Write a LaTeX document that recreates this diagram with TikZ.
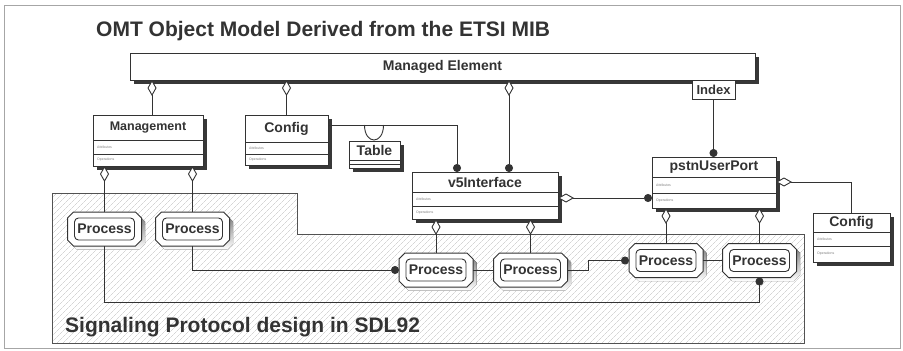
\documentclass[tikz,border=0pt]{standalone}
\usepackage{fontspec}
\setmainfont{Liberation Sans}
\usetikzlibrary{shapes.misc,shadows,arrows.meta,calc,patterns.meta}

\definecolor{ink}{gray}{0.2}
\definecolor{shade}{gray}{0.22}

\newcommand\umlclass[8]{%
  \node[classbox, minimum width=#4pt, minimum height=#5pt] (#1) at (#2,#3) {};
  \draw[divline] ($(#1.north west)+(0,#6)$) -- ($(#1.north east)+(0,#6)$);
  \draw[divline] ($(#1.north west)+(0,#7)$) -- ($(#1.north east)+(0,#7)$);
  \node[cname] (#1-name) at ($(#1.north)+(0,#6/2)$) {#8};
  \node[ctiny] (#1-attr) at ($(#1.north west)+(4,{(#6+#7)/2})$) {Attributes};
  \node[ctiny] (#1-ops) at ($(#1.north west)+(4,{(#7+#5)/2})$) {Operations};
}

\newcommand\procnode[3]{%
  \begin{scope}[shift={(#2,#3)}]
    \fill[shade, shift={(3.5,3.5)}, octo];
    \filldraw[fill=white, draw=ink, line width=1pt, octo];
    \draw[ink, line width=0.9pt, rounded corners=4pt] (-30,-11) rectangle (30,11);
    \node[procbox] (#1) at (0,0) {Process};
  \end{scope}
}

\begin{document}
\begin{tikzpicture}[x=1pt,y=-1pt,
  conn/.style={draw=ink, line width=0.9pt},
  agg/.style={conn, {Diamond[fill=white,length=16pt,width=9pt]}-},
  aggdot/.style={conn, {Diamond[fill=white,length=16pt,width=9pt]}-{Circle[length=8pt]}},
  todot/.style={conn, -{Circle[length=8pt]}},
  divline/.style={draw=ink, line width=0.7pt},
  classbox/.style={draw=ink, line width=0.9pt, fill=white, rectangle, inner sep=0pt, outer sep=0pt,
     drop shadow={shadow xshift=3.5pt, shadow yshift=-3.5pt, fill=shade, opacity=1}},
  cname/.style={font=\bfseries\fontsize{14}{14}\selectfont, text=ink, inner sep=0pt},
  ctiny/.style={font=\fontsize{3.5}{4}\selectfont, text=gray, anchor=west, inner sep=0pt},
  procbox/.style={rectangle, minimum width=74pt, minimum height=34pt, inner sep=0pt, outer sep=0pt,
     font=\bfseries\fontsize{14}{14}\selectfont, text=ink},
  octo/.style={insert path={(-31,-17) -- (31,-17) -- (37,-11) -- (37,11) -- (31,17) -- (-31,17) -- (-37,11) -- (-37,-11) -- cycle}},
  bigtext/.style={anchor=west, font=\bfseries\fontsize{21}{21}\selectfont, text=ink, inner sep=0pt}
]
\useasboundingbox (0,0) rectangle (903,351);
\fill[white] (0,0) rectangle (903,351);
\draw[gray!70, line width=0.8pt] (4,5) rectangle (900,348);

% SDL region
\path[draw=ink!85, line width=0.8pt, pattern={Lines[angle=45, distance=4pt, line width=0.4pt]}, pattern color=gray!50]
  (52,193) -- (297,193) -- (297,234) -- (804,234) -- (804,343) -- (52,343) -- cycle;

\node[bigtext] (title) at (96,31) {OMT Object Model Derived from the ETSI MIB};
\node[bigtext] (sdl) at (65,327) {Signaling Protocol design in SDL92};

% Managed element
\node[classbox, minimum width=625pt, minimum height=27pt, font=\bfseries\fontsize{14}{14}\selectfont, text=ink] (me) at (442.5,66.5) {Managed Element};
\node[draw=ink, line width=0.7pt, fill=white, minimum width=43pt, minimum height=19pt, inner sep=0pt,
      font=\bfseries\fontsize{13}{13}\selectfont, text=ink] (idx) at (713.5,89.5) {Index};

\umlclass{mgmt}{148}{140.5}{110}{51}{25}{39}{\fontsize{12.5}{12.5}\selectfont Management}
\umlclass{cfgL}{286.5}{140}{83}{50}{27}{39}{Config}
\umlclass{v5}{485}{195.5}{146}{47}{20}{34}{v5Interface}
\umlclass{pstn}{714}{182.5}{124}{51}{20}{36}{pstnUserPort}
\umlclass{cfgR}{851.5}{237.5}{77}{49}{19}{33}{Config}

% Table
\node[classbox, minimum width=51pt, minimum height=27pt] (tbl) at (374.5,154.5) {};
\draw[divline] ($(tbl.north west)+(0,19)$) -- ($(tbl.north east)+(0,19)$);
\draw[divline] ($(tbl.north west)+(0,23)$) -- ($(tbl.north east)+(0,23)$);
\node[cname] (tbl-name) at ($(tbl.north)+(0,9.5)$) {Table};

% Processes
\procnode{p1}{104.5}{229}
\procnode{p2}{192.5}{229}
\procnode{p3}{436}{270}
\procnode{p4}{530.5}{270}
\procnode{p5}{666}{260.5}
\procnode{p6}{759.5}{260.5}

% connectors
\coordinate (mgA) at ($(mgmt.north)+(4,0)$);
\draw[agg] (me.south -| mgA) -- (mgA);
\draw[agg] (me.south -| cfgL.north) -- (cfgL.north);
\coordinate (v5B) at ($(v5.north)+(24,0)$);
\draw[aggdot] (me.south -| v5B) -- (v5B);
\draw[todot] (idx.south) -- (idx.south |- pstn.north);
\coordinate (v5A) at ($(v5.north)+(-28,0)$);
\draw[todot] ($(cfgL.north east)+(0,10)$) -| (v5A);
\draw[conn] ($(tbl.north)+(-10,-16)$) .. controls ($(tbl.north)+(-10,4)$) and ($(tbl.north)+(9,4)$) .. ($(tbl.north)+(9,-16)$);
\coordinate (v5R) at ($(v5.north east)+(0,26)$);
\draw[aggdot] (v5R) -- (v5R -| pstn.west);
\coordinate (psR) at ($(pstn.north east)+(0,25)$);
\draw[agg] (psR) -| (cfgR.north);

\draw[agg] (mgmt.south -| p1.north) -- (p1.north);
\draw[agg] (mgmt.south -| p2.north) -- (p2.north);
\draw[agg] (v5.south -| p3.north) -- (p3.north);
\draw[agg] (v5.south -| p4.north) -- (p4.north);
\draw[agg] (pstn.south -| p5.north) -- (p5.north);
\draw[agg] (pstn.south -| p6.north) -- (p6.north);
\draw[conn] (p3.east) -- (p4.west);
\draw[conn] (p5.east) -- (p6.west);
\draw[todot] (p4.east) -- ++(21,0) |- (p5.west);
\draw[todot] (p2.south) |- (p3.west);
\draw[todot] (p1.south) -- ++(0,56) -| (p6.south);
\end{tikzpicture}
\end{document}
